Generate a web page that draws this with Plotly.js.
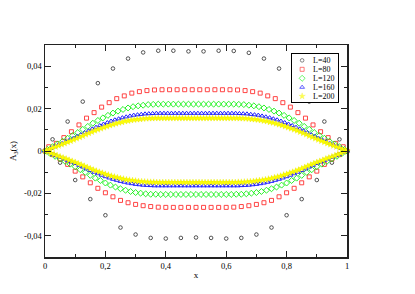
<!DOCTYPE html>
<html>
<head>
<meta charset="utf-8">
<script src="https://cdn.plot.ly/plotly-3.0.1.min.js"></script>
<style>html,body{margin:0;padding:0;background:#fff}#chart{width:415px;height:294px}</style>
</head>
<body>
<div id="chart"></div>
<script>
// Series sizes (legend)
const L_values = [40, 80, 120, 160, 200];
const L_labels = ['L=40', 'L=80', 'L=120', 'L=160', 'L=200'];

// Upper branch (odd sites) and lower branch (even sites), per L
const L40_up = [0.0055,0.0139,0.0233,0.0320,0.0389,0.0436,0.0465,0.0473,0.0473,0.0470,0.0470,0.0473,0.0472,0.0463,0.0436,0.0389,0.0320,0.0233,0.0139,0.0055];
const L40_lo = [0,-0.0055,-0.0137,-0.0227,-0.0303,-0.0361,-0.0394,-0.0410,-0.0413,-0.0410,-0.0408,-0.0410,-0.0413,-0.0410,-0.0394,-0.0361,-0.0303,-0.0227,-0.0137,-0.0055,0];

const L80_up = [0.0020,0.0036,0.0063,0.0091,0.0123,0.0155,0.0181,0.0207,0.0228,0.0247,0.0260,0.0273,0.0280,0.0285,0.0288,0.0289,0.0289,0.0289,0.0289,0.0289,
0.0289,0.0289,0.0289,0.0289,0.0289,0.0288,0.0285,0.0280,0.0273,0.0260,0.0247,0.0228,0.0207,0.0181,0.0155,0.0123,0.0091,0.0063,0.0036,0.0020];
const L80_lo = [0,-0.0017,-0.0038,-0.0063,-0.0095,-0.0122,-0.0150,-0.0176,-0.0197,-0.0216,-0.0233,-0.0244,-0.0252,-0.0258,-0.0262,-0.0265,-0.0266,-0.0266,-0.0266,-0.0266,-0.0266,
-0.0266,-0.0266,-0.0266,-0.0266,-0.0265,-0.0262,-0.0258,-0.0252,-0.0244,-0.0233,-0.0216,-0.0197,-0.0176,-0.0150,-0.0122,-0.0095,-0.0063,-0.0038,-0.0017,0];

const L120_up = [0.0007,0.0020,0.0033,0.0046,0.0060,0.0073,0.0087,0.0102,0.0116,0.0131,0.0144,0.0156,0.0168,0.0179,0.0188,0.0196,0.0203,0.0209,0.0213,0.0216,0.0219,0.0220,0.0221,0.0221,0.0221,0.0221,0.0221,0.0221,0.0221,0.0221,
0.0221,0.0221,0.0221,0.0221,0.0221,0.0221,0.0221,0.0221,0.0220,0.0219,0.0216,0.0213,0.0209,0.0203,0.0196,0.0188,0.0179,0.0168,0.0156,0.0144,0.0131,0.0116,0.0102,0.0087,0.0073,0.0060,0.0046,0.0033,0.0020,0.0007];
const L120_lo = [0,-0.0012,-0.0025,-0.0037,-0.0049,-0.0062,-0.0074,-0.0088,-0.0101,-0.0115,-0.0128,-0.0139,-0.0151,-0.0161,-0.0170,-0.0178,-0.0185,-0.0191,-0.0196,-0.0199,-0.0202,-0.0204,-0.0204,-0.0205,-0.0205,-0.0205,-0.0205,-0.0205,-0.0205,-0.0205,-0.0205,
-0.0205,-0.0205,-0.0205,-0.0205,-0.0205,-0.0205,-0.0205,-0.0204,-0.0204,-0.0202,-0.0199,-0.0196,-0.0191,-0.0185,-0.0178,-0.0170,-0.0161,-0.0151,-0.0139,-0.0128,-0.0115,-0.0101,-0.0088,-0.0074,-0.0062,-0.0049,-0.0037,-0.0025,-0.0012,0];

const L160_up = [0.0004,0.0012,0.0020,0.0028,0.0036,0.0044,0.0052,0.0060,0.0069,0.0077,0.0086,0.0095,0.0104,0.0112,0.0120,0.0127,0.0134,0.0141,0.0147,0.0152,0.0157,0.0161,0.0165,0.0169,0.0171,0.0173,0.0175,0.0176,0.0177,0.0178,0.0178,0.0178,0.0178,0.0178,0.0178,0.0178,0.0178,0.0178,0.0178,0.0178,
0.0178,0.0178,0.0178,0.0178,0.0178,0.0178,0.0178,0.0178,0.0178,0.0178,0.0178,0.0177,0.0176,0.0175,0.0173,0.0171,0.0169,0.0165,0.0161,0.0157,0.0152,0.0147,0.0141,0.0134,0.0127,0.0120,0.0112,0.0104,0.0095,0.0086,0.0077,0.0069,0.0060,0.0052,0.0044,0.0036,0.0028,0.0020,0.0012,0.0004];
const L160_lo = [0,-0.0007,-0.0015,-0.0022,-0.0030,-0.0037,-0.0044,-0.0052,-0.0059,-0.0067,-0.0075,-0.0084,-0.0092,-0.0100,-0.0107,-0.0114,-0.0121,-0.0127,-0.0133,-0.0138,-0.0143,-0.0147,-0.0151,-0.0154,-0.0157,-0.0159,-0.0161,-0.0162,-0.0163,-0.0164,-0.0164,-0.0164,-0.0164,-0.0164,-0.0164,-0.0164,-0.0164,-0.0164,-0.0164,-0.0164,-0.0164,
-0.0164,-0.0164,-0.0164,-0.0164,-0.0164,-0.0164,-0.0164,-0.0164,-0.0164,-0.0164,-0.0164,-0.0163,-0.0162,-0.0161,-0.0159,-0.0157,-0.0154,-0.0151,-0.0147,-0.0143,-0.0138,-0.0133,-0.0127,-0.0121,-0.0114,-0.0107,-0.0100,-0.0092,-0.0084,-0.0075,-0.0067,-0.0059,-0.0052,-0.0044,-0.0037,-0.0030,-0.0022,-0.0015,-0.0007,0];

const L200_up = [0.0003,0.0008,0.0014,0.0020,0.0025,0.0031,0.0036,0.0042,0.0047,0.0053,0.0059,0.0065,0.0071,0.0078,0.0084,0.0090,0.0096,0.0101,0.0106,0.0111,0.0116,0.0121,0.0125,0.0129,0.0133,0.0136,0.0140,0.0142,0.0145,0.0147,0.0149,0.0150,0.0152,0.0153,0.0154,0.0154,0.0155,0.0155,0.0155,0.0155,0.0155,0.0155,0.0155,0.0155,0.0155,0.0155,0.0155,0.0155,0.0155,0.0155,
0.0155,0.0155,0.0155,0.0155,0.0155,0.0155,0.0155,0.0155,0.0155,0.0155,0.0155,0.0155,0.0155,0.0155,0.0154,0.0154,0.0153,0.0152,0.0150,0.0149,0.0147,0.0145,0.0142,0.0140,0.0136,0.0133,0.0129,0.0125,0.0121,0.0116,0.0111,0.0106,0.0101,0.0096,0.0090,0.0084,0.0078,0.0071,0.0065,0.0059,0.0053,0.0047,0.0042,0.0036,0.0031,0.0025,0.0020,0.0014,0.0008,0.0003];
const L200_lo = [0,-0.0005,-0.0011,-0.0016,-0.0021,-0.0027,-0.0032,-0.0037,-0.0043,-0.0048,-0.0053,-0.0059,-0.0065,-0.0071,-0.0077,-0.0083,-0.0089,-0.0094,-0.0099,-0.0104,-0.0109,-0.0113,-0.0118,-0.0122,-0.0125,-0.0129,-0.0132,-0.0135,-0.0137,-0.0139,-0.0141,-0.0143,-0.0144,-0.0145,-0.0146,-0.0147,-0.0147,-0.0148,-0.0148,-0.0148,-0.0148,-0.0148,-0.0148,-0.0148,-0.0148,-0.0148,-0.0148,-0.0148,-0.0148,-0.0148,-0.0148,
-0.0148,-0.0148,-0.0148,-0.0148,-0.0148,-0.0148,-0.0148,-0.0148,-0.0148,-0.0148,-0.0148,-0.0148,-0.0148,-0.0147,-0.0147,-0.0146,-0.0145,-0.0144,-0.0143,-0.0141,-0.0139,-0.0137,-0.0135,-0.0132,-0.0129,-0.0125,-0.0122,-0.0118,-0.0113,-0.0109,-0.0104,-0.0099,-0.0094,-0.0089,-0.0083,-0.0077,-0.0071,-0.0065,-0.0059,-0.0053,-0.0048,-0.0043,-0.0037,-0.0032,-0.0027,-0.0021,-0.0016,-0.0011,-0.0005,0];

// Tick labels (comma decimal separator, hyphen minus)
const yTickVals = [-0.04, -0.02, 0, 0.02, 0.04];
const yTickText = ['-0,04', '-0,02', '0', '0,02', '0,04'];

const upper = [L40_up, L80_up, L120_up, L160_up, L200_up];
const lower = [L40_lo, L80_lo, L120_lo, L160_lo, L200_lo];

const styles = [
  {symbol: 'circle-open', size: 3.6, color: '#404040', line: {width: 0.9, color: '#404040'}},
  {symbol: 'square-open', size: 4, color: '#ff3030', line: {width: 0.9, color: '#ff3030'}},
  {symbol: 'diamond-open', size: 4.6, color: '#10f010', line: {width: 0.9, color: '#10f010'}},
  {symbol: 'triangle-up-open', size: 4.2, color: '#2020ff', line: {width: 1, color: '#2020ff'}},
  {symbol: 'star', size: 4.8, color: '#ffff00', line: {width: 0.3, color: '#e8e800'}}
];

const serif = 'Liberation Serif, Times New Roman, serif';
const traces = [];
L_values.forEach((L, s) => {
  const xu = upper[s].map((_, k) => (2 * k + 1) / L);
  const xl = lower[s].map((_, k) => (2 * k) / L);
  traces.push({
    type: 'scatter', mode: 'markers',
    x: xu.concat(xl), y: upper[s].concat(lower[s]),
    marker: styles[s], cliponaxis: false, showlegend: false, hoverinfo: 'skip',
    xaxis: 'x', yaxis: 'y'
  });
});

// Inset legend box drawn as a small subplot
const legIdx = L_labels.map((_, i) => i);
traces.push({
  type: 'scatter', mode: 'markers',
  x: legIdx.map(() => 0.22), y: legIdx,
  marker: {
    symbol: styles.map(s => s.symbol), size: styles.map(s => s.size),
    color: styles.map(s => s.color),
    line: {width: styles.map(s => s.line.width), color: styles.map(s => s.line.color)}
  },
  showlegend: false, hoverinfo: 'skip', xaxis: 'x2', yaxis: 'y2', cliponaxis: false
});

const annotations = L_labels.map((t, i) => ({
  xref: 'x2', yref: 'y2', x: 0.42, y: i, text: t, showarrow: false,
  xanchor: 'left', yanchor: 'middle', font: {family: serif, size: 8, color: '#000'}
}));

const axisCommon = {
  showline: true, linecolor: '#222', linewidth: 1.5, mirror: 'allticks',
  ticks: 'inside', ticklen: 6, tickwidth: 1, tickcolor: '#222',
  showgrid: false, zeroline: false,
  tickfont: {family: serif, size: 8.5, color: '#000'}
};

const layout = {
  width: 415, height: 294,
  margin: {l: 45, r: 68, t: 45, b: 37},
  paper_bgcolor: '#fff', plot_bgcolor: '#fff',
  font: {family: serif, color: '#000'},
  separators: ',.',
  showlegend: false,
  xaxis: Object.assign({}, axisCommon, {
    range: [0, 1], tickmode: 'linear', tick0: 0, dtick: 0.2,
    minor: {ticks: 'inside', ticklen: 3, tickmode: 'linear', tick0: 0, dtick: 0.1, tickcolor: '#222', showgrid: false},
    title: {text: 'x', font: {family: serif, size: 9, color: '#000'}, standoff: 2}
  }),
  yaxis: Object.assign({}, axisCommon, {
    range: [-0.05, 0.05], tickmode: 'array', tickvals: yTickVals, ticktext: yTickText,
    minor: {ticks: 'inside', ticklen: 3, tickmode: 'linear', tick0: 0, dtick: 0.01, tickcolor: '#222', showgrid: false},
    title: {text: 'A<sub>3</sub>(x)', font: {family: serif, size: 9, color: '#000'}, standoff: 6}
  }),
  xaxis2: {domain: [0.818, 0.970], range: [0, 1], anchor: 'y2', showline: true, mirror: true,
    linecolor: '#000', linewidth: 1, showticklabels: false, ticks: '', showgrid: false, zeroline: false, fixedrange: true},
  yaxis2: {domain: [0.731, 0.958], range: [4.65, -0.72], anchor: 'x2', showline: true, mirror: true,
    linecolor: '#000', linewidth: 1, showticklabels: false, ticks: '', showgrid: false, zeroline: false, fixedrange: true},
  annotations: annotations
};

Plotly.newPlot('chart', traces, layout, {staticPlot: true, displayModeBar: false});
</script>
</body>
</html>
